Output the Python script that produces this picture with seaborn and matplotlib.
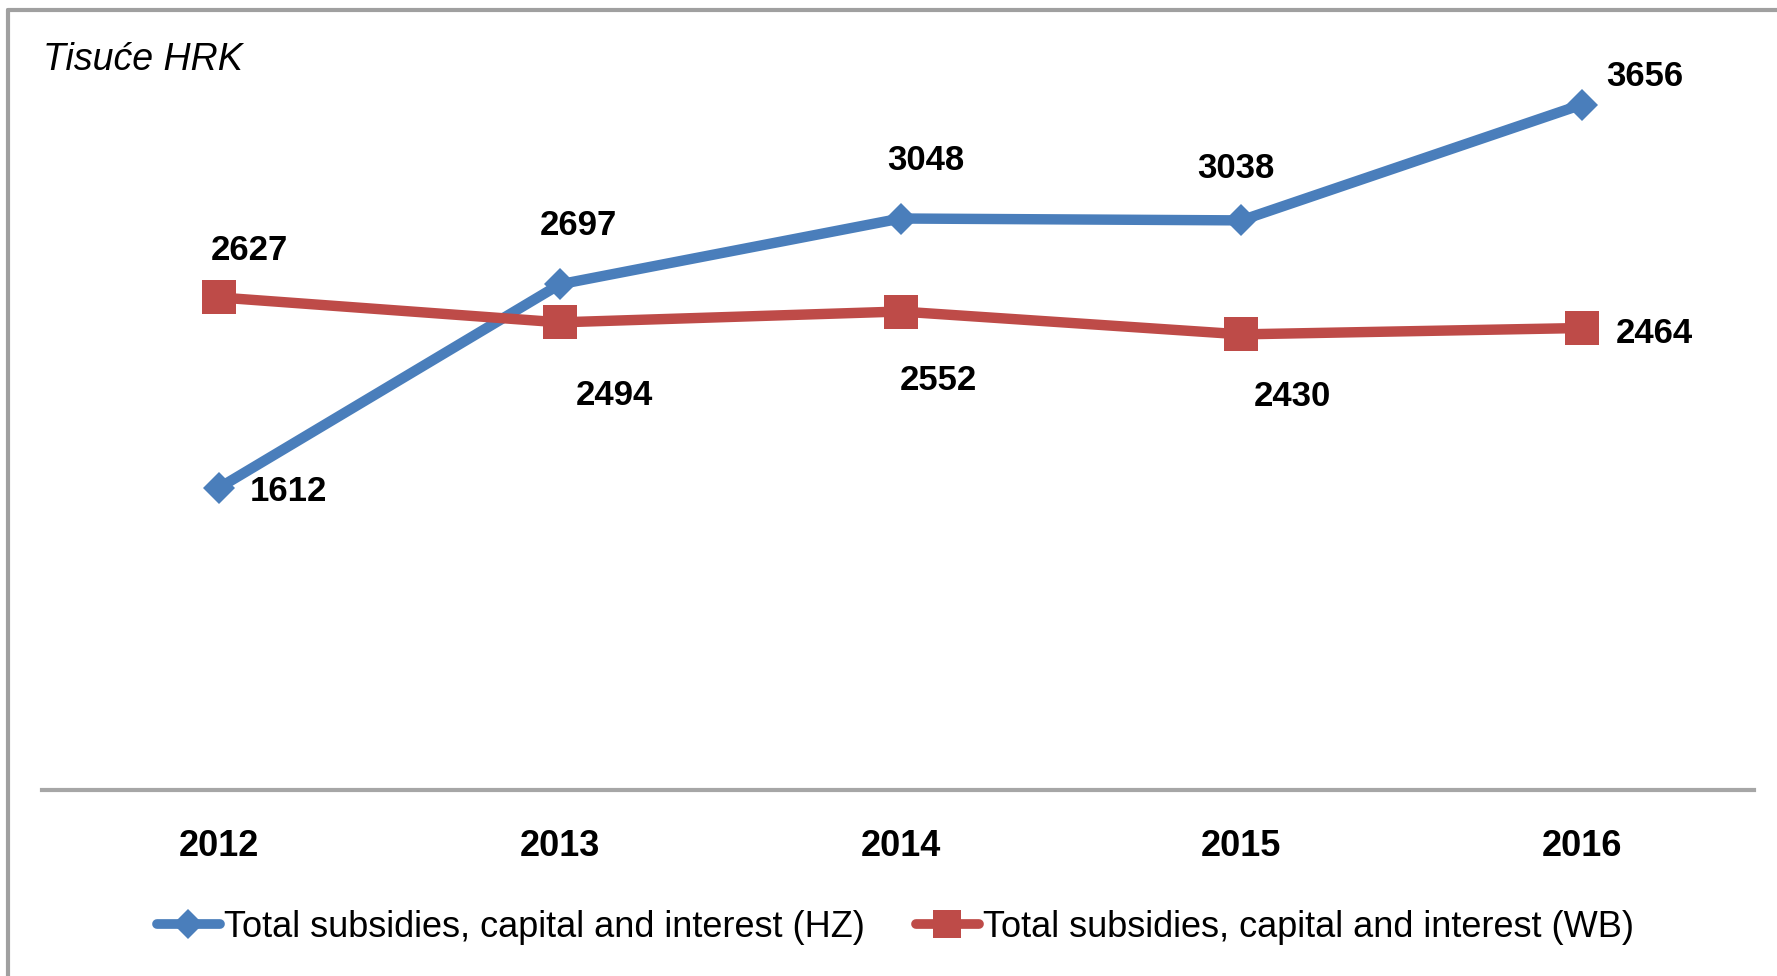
import seaborn as sns
import matplotlib.pyplot as plt
import pandas as pd
from matplotlib.lines import Line2D

# ----------------------------
# Data
# ----------------------------
years = ["2012", "2013", "2014", "2015", "2016"]
hz_values = [1612, 2697, 3048, 3038, 3656]
wb_values = [2627, 2494, 2552, 2430, 2464]
series_names = [
    "Total subsidies, capital and interest (HZ)",
    "Total subsidies, capital and interest (WB)",
]
unit_label = "Tisuće HRK"

df = pd.DataFrame({
    "Year": years * 2,
    "Value": hz_values + wb_values,
    "Series": [series_names[0]] * len(years) + [series_names[1]] * len(years),
})

# label offsets in points (dx, dy) for each point
hz_offsets = [(50, -3), (13, 42), (18, 42), (-4, 37), (45, 20)]
wb_offsets = [(22, 34), (39, -53), (27, -50), (37, -45), (52, -4)]

# ----------------------------
# Plot
# ----------------------------
sns.set_style("white")
plt.rcParams["font.family"] = ["Liberation Sans", "DejaVu Sans"]
plt.rcParams["text.color"] = "black"
plt.rcParams["xtick.color"] = "black"

blue = "#4a7ebb"
red = "#be4b48"

fig = plt.figure(figsize=(17.77, 9.76), dpi=100)
ax = fig.add_axes([0.0236, 0.1906, 0.9635, 0.7684])

sns.lineplot(
    data=df, x="Year", y="Value", hue="Series", style="Series",
    palette={series_names[0]: blue, series_names[1]: red},
    markers={series_names[0]: "D", series_names[1]: "s"},
    dashes=False, linewidth=7.5, markersize=16, markeredgewidth=0,
    ax=ax, legend=False,
)
# square markers are drawn larger than the diamonds
for line in ax.get_lines():
    if line.get_marker() == "s":
        line.set_markersize(24)
    else:
        line.set_markersize(16)

for i, v in enumerate(hz_values):
    ax.annotate(str(v), (i, v), xytext=hz_offsets[i], textcoords="offset points",
                ha="center", va="center", fontsize=25, fontweight="bold")
for i, v in enumerate(wb_values):
    ax.annotate(str(v), (i, v), xytext=wb_offsets[i], textcoords="offset points",
                ha="center", va="center", fontsize=25, fontweight="bold")

ax.set_xlim(-0.52, 4.505)
ax.set_ylim(0, 4000)
ax.set_xlabel("")
ax.set_ylabel("")
ax.set_yticks([])
for s in ["top", "right", "left"]:
    ax.spines[s].set_visible(False)
ax.spines["bottom"].set_color("#a6a6a6")
ax.spines["bottom"].set_linewidth(3)
ax.tick_params(axis="x", length=0, pad=28, labelsize=26, labelcolor="black")
for lab in ax.get_xticklabels():
    lab.set_fontweight("bold")

# unit label
fig.text(0.0242, 0.939, unit_label, fontsize=27, style="italic", ha="left", va="center")

# outer frame (top and left edges)
fig.add_artist(Line2D([0.0045, 1], [0.9897, 0.9897], color="#a0a0a0", lw=3, transform=fig.transFigure))
fig.add_artist(Line2D([0.0045, 0.0045], [0, 0.9897], color="#a0a0a0", lw=3, transform=fig.transFigure))

handles = [
    Line2D([], [], color=blue, lw=7, marker="D", markersize=15, markeredgewidth=0),
    Line2D([], [], color=red, lw=7, marker="s", markersize=20, markeredgewidth=0),
]
fig.legend(handles, series_names, loc="center", bbox_to_anchor=(0.504, 0.05), ncol=2,
           frameon=False, fontsize=26, handlelength=1.75, handletextpad=0.12, columnspacing=1.4)

plt.savefig("out.png", dpi=100)
plt.close()
